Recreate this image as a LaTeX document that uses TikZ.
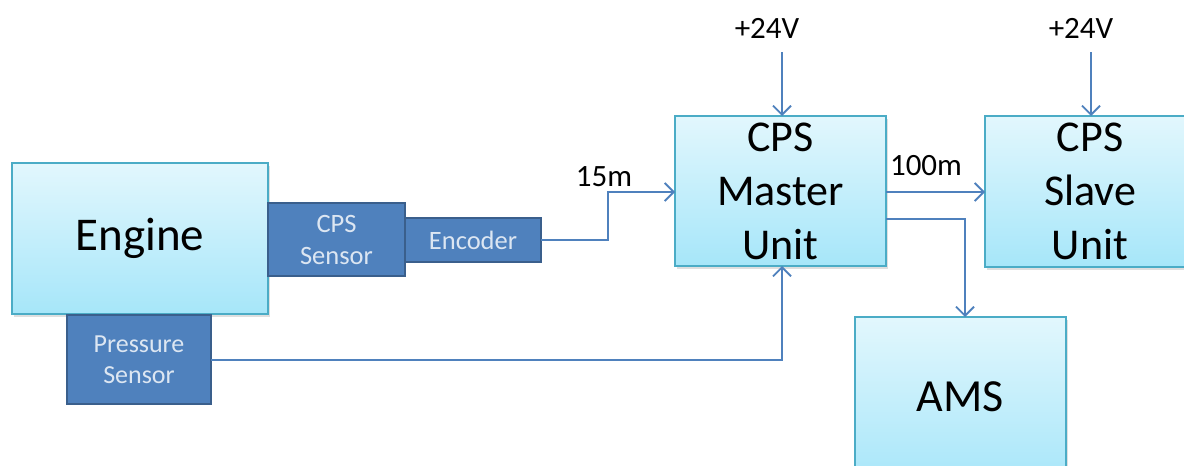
\documentclass[tikz,border=0pt]{standalone}
\usepackage{fontspec}
\setmainfont{Carlito}
\usetikzlibrary{arrows.meta,shadows}
\definecolor{cyanedge}{HTML}{4BACC6}
\definecolor{cyantop}{HTML}{E2F7FD}
\definecolor{cyanbot}{HTML}{A6E6F9}
\definecolor{darkfill}{HTML}{4F81BD}
\definecolor{darkedge}{HTML}{3A5F8C}
\definecolor{lighttext}{HTML}{DCE6F2}
\definecolor{wire}{HTML}{4F81BD}
\tikzset{
  unit/.style={draw=cyanedge, line width=1.6pt, top color=cyantop, bottom color=cyanbot,
    inner sep=0pt, outer sep=0pt, anchor=north west, align=center,
    drop shadow={shadow xshift=2pt, shadow yshift=-3pt, opacity=0.25}},
  part/.style={draw=darkedge, line width=2.2pt, fill=darkfill, text=lighttext,
    inner sep=0pt, outer sep=0pt, anchor=north west, align=center,
    font=\fontsize{26.5}{32}\selectfont},
  wirestyle/.style={draw=wire, line width=1.8pt, -{Straight Barb[length=9pt,width=18pt,line width=1.8pt]}},
  lbl/.style={font=\fontsize{31}{34}\selectfont, inner sep=0pt}
}
\begin{document}
\begin{tikzpicture}[x=1pt,y=-1pt]
\useasboundingbox (0,0) rectangle (1184,466);
\clip (0,0) rectangle (1184,466);

% main units
\node[unit, minimum width=256pt, minimum height=151pt, font=\fontsize{47}{50}\selectfont] (engine) at (12,163) {Engine};
\node[unit, minimum width=211pt, minimum height=150pt, font=\fontsize{44}{54}\selectfont] (master) at (675,116) {CPS\\Master\\Unit};
\node[unit, minimum width=210pt, minimum height=151pt, font=\fontsize{44}{54}\selectfont] (slave) at (985,116) {CPS\\Slave\\Unit};
\node[unit, minimum width=211pt, minimum height=170pt] (ams) at (855,317) {};
\node[font=\fontsize{46}{50}\selectfont, inner sep=0pt] (amstext) at (960,397) {AMS};

% sensors
\node[part, minimum width=137pt, minimum height=73pt] (cps) at (268,203) {CPS\\Sensor};
\node[part, minimum width=136pt, minimum height=44pt] (enc) at (405,218) {Encoder};
\node[part, minimum width=144pt, minimum height=89pt, font=\fontsize{26}{31}\selectfont] (press) at (67,315) {Pressure\\Sensor};

% supply labels
\node[lbl] (v1) at (767,28) {+24V};
\node[lbl] (v2) at (1081,28) {+24V};
\coordinate (v1end) at (782,52);
\coordinate (v2end) at (1091,52);

% connectors
\draw[wirestyle] (v1end) -- (v1end |- master.north);
\draw[wirestyle] (v2end) -- (v2end |- slave.north);
\draw[wirestyle] (enc.east) -- (608,240) -- (608,192) -- (master.west |- 0,192);
\draw[wirestyle] (press.east |- 0,360) -- (782,360) -- (782,266);
\draw[wirestyle] (master.east |- 0,192) -- (slave.west |- 0,192);
\draw[wirestyle] (master.east |- 0,219) -- (965,219) -- (965,317);

% cable lengths
\node[lbl] (l15) at (604,177) {15m};
\node[lbl] (l100) at (926,166) {100m};
\end{tikzpicture}
\end{document}
